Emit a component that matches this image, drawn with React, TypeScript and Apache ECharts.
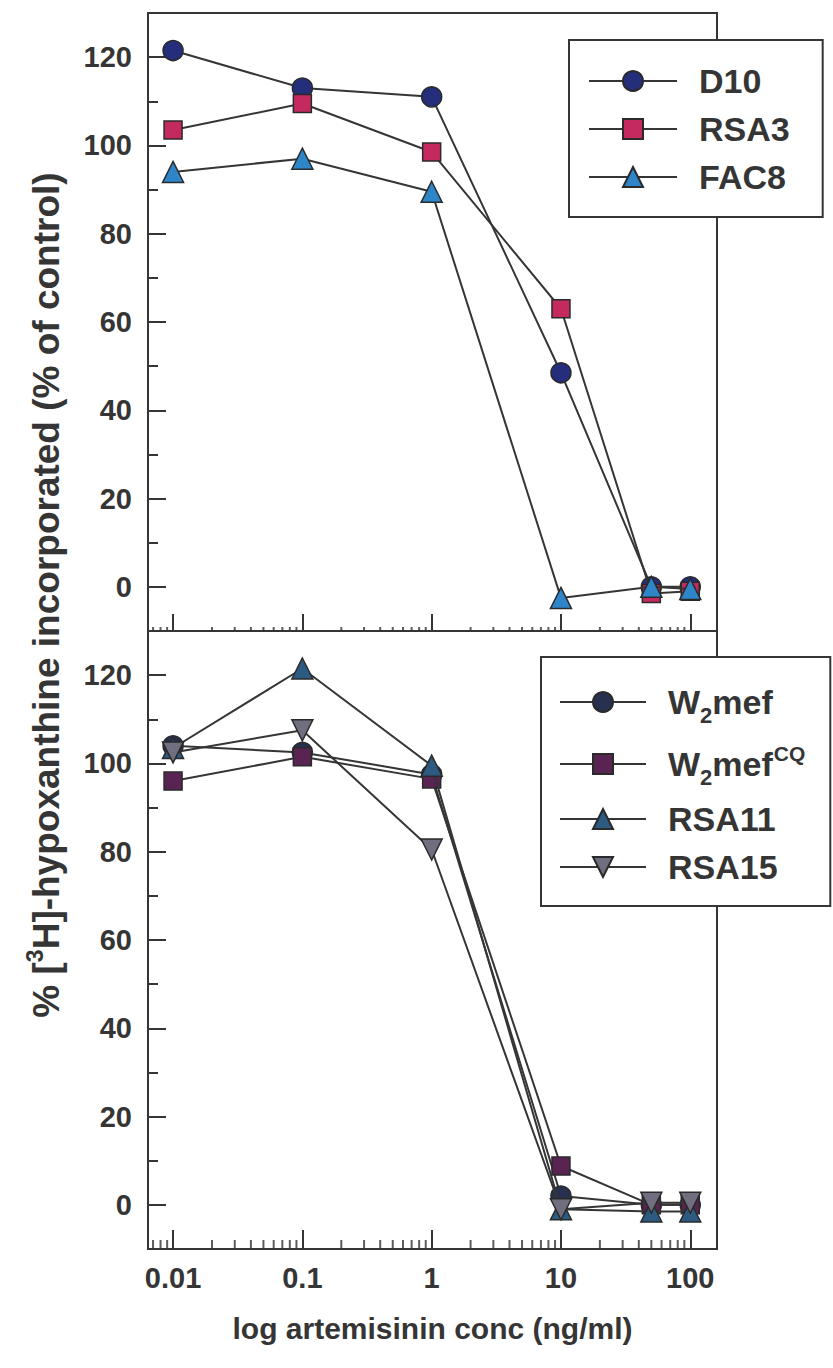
import React, { useEffect, useRef } from 'react';
import * as echarts from 'echarts';

// ---------- data ----------
const CONC = [0.01, 0.1, 1, 10, 50, 100];

// upper panel
const D10 = [121.5, 113, 111, 48.5, 0, 0];
const RSA3 = [103.5, 109.5, 98.5, 63, -1.5, -1];
const FAC8 = [94, 97, 89.5, -2.5, 0, -0.5];

// lower panel
const W2MEF = [104, 102.5, 97.5, 2, 0, 0];
const W2MEF_CQ = [96, 101.5, 96.5, 8.8, 0, 0];
const RSA11 = [103.5, 121.5, 99.5, -1, -1.5, -1.5];
const RSA15 = [102.5, 107.5, 80.5, -1, 0.5, 0.5];

// ticks
const Y_MAJOR_TICKS = [0, 20, 40, 60, 80, 100, 120];
const Y_MINOR_TICKS = [10, 30, 50, 70, 90, 110];
const X_MINOR_TICKS = [
  0.007, 0.008, 0.009,
  0.02, 0.03, 0.04, 0.05, 0.06, 0.07, 0.08, 0.09,
  0.2, 0.3, 0.4, 0.5, 0.6, 0.7, 0.8, 0.9,
  2, 3, 4, 5, 6, 7, 8, 9,
  20, 30, 40, 50, 60, 70, 80, 90,
];

const TOP_NAMES = ['D10', 'RSA3', 'FAC8'];
const BOTTOM_NAMES = ['W2mef', 'W2mefCQ', 'RSA11', 'RSA15'];
const LEGEND_LABELS: Record<string, string> = {
  D10: '{f|D10}',
  RSA3: '{f|RSA3}',
  FAC8: '{f|FAC8}',
  W2mef: '{f|W}{s|2}{n|mef}',
  W2mefCQ: '{f|W}{s|2}{n|mef}{p|CQ}',
  RSA11: '{f|RSA11}',
  RSA15: '{f|RSA15}',
};

const X_MIN = 0.0064;
const X_MAX = 161;
const Y_MIN = -10;
const Y_MAX = 130;

const FONT = '"Liberation Sans", Arial, Helvetica, sans-serif';
const INK = '#353535';
const TICK_FONT = 29;
const LEGEND_FONT = 34;

export default function App() {
  const ref = useRef<HTMLDivElement>(null);

  useEffect(() => {
    if (!ref.current) return;
    const chart = echarts.init(ref.current, undefined, { renderer: 'svg' });

    const grids = [
      { left: 148, right: 116, top: 13, height: 618 },
      { left: 148, right: 116, top: 631, height: 618 },
    ].map((g) => ({
      ...g,
      show: true,
      borderColor: INK,
      borderWidth: 2,
      backgroundColor: 'transparent',
    }));

    const xAxisBase = (gridIndex: number, showLabels: boolean, tickLen: number) => ({
      type: 'log',
      gridIndex,
      position: 'bottom',
      min: X_MIN,
      max: X_MAX,
      logBase: 10,
      axisLine: { show: false, onZero: false },
      splitLine: { show: false },
      axisTick: { show: true, inside: true, length: tickLen, lineStyle: { color: INK, width: 2 } },
      axisLabel: {
        show: showLabels,
        showMinLabel: false,
        showMaxLabel: false,
        margin: 14,
        fontSize: TICK_FONT,
        fontWeight: 'bold',
        color: INK,
        fontFamily: FONT,
        formatter: (v: number) => String(parseFloat(Number(v).toPrecision(3))),
      },
    });

    const yMajor = (gridIndex: number) => ({
      type: 'value',
      gridIndex,
      position: 'left',
      min: Y_MIN,
      max: Y_MAX,
      interval: 10,
      axisLine: { show: false, onZero: false },
      splitLine: { show: false },
      axisTick: {
        show: true,
        inside: true,
        length: 18,
        customValues: Y_MAJOR_TICKS,
        lineStyle: { color: INK, width: 2 },
      },
      axisLabel: {
        show: true,
        customValues: Y_MAJOR_TICKS,
        margin: 16,
        fontSize: TICK_FONT,
        fontWeight: 'bold',
        color: INK,
        fontFamily: FONT,
      },
    });

    const yMinor = (gridIndex: number) => ({
      type: 'value',
      gridIndex,
      position: 'left',
      offset: 0,
      min: Y_MIN,
      max: Y_MAX,
      interval: 10,
      axisLine: { show: false, onZero: false },
      splitLine: { show: false },
      axisTick: {
        show: true,
        inside: true,
        length: 10,
        customValues: Y_MINOR_TICKS,
        lineStyle: { color: INK, width: 2 },
      },
      axisLabel: { show: false },
    });

    const lineSeries = (
      name: string,
      values: number[],
      symbol: string,
      color: string,
      size: number,
      xAxisIndex: number,
      yAxisIndex: number,
      rotate = 0,
      z = 2
    ) => ({
      type: 'line',
      name,
      xAxisIndex,
      yAxisIndex,
      data: CONC.map((c, i) => [c, values[i]]),
      symbol,
      symbolSize: size,
      symbolRotate: rotate,
      showAllSymbol: true,
      clip: false,
      z,
      lineStyle: { color: INK, width: 2 },
      itemStyle: { color, borderColor: '#2a2a2a', borderWidth: 1.5 },
      emphasis: { disabled: true },
    });

    const minorTickSeries = (xAxisIndex: number, yAxisIndex: number, len: number) => ({
      type: 'scatter',
      name: 'minor',
      xAxisIndex,
      yAxisIndex,
      data: X_MINOR_TICKS.map((v) => [v, Y_MIN]),
      symbol: 'rect',
      symbolSize: [2, len],
      symbolOffset: [0, -len / 2],
      itemStyle: { color: INK },
      silent: true,
      clip: false,
      z: 1,
    });

    const tok = { fontFamily: FONT, color: INK, fontWeight: 'bold' };
    const richBase = {
      f: { ...tok, fontSize: LEGEND_FONT, padding: [0, 0, 0, 17], lineHeight: 32 },
      n: { ...tok, fontSize: LEGEND_FONT, lineHeight: 32 },
      s: { ...tok, fontSize: 22, padding: [26, 0, 0, 0], lineHeight: 32 },
      p: { ...tok, fontSize: 21, padding: [0, 1, 22, 1], lineHeight: 32 },
    };

    const legendBase = {
      orient: 'vertical',
      itemHeight: 25,
      backgroundColor: '#ffffff',
      borderColor: INK,
      borderWidth: 2,
      borderRadius: 0,
      selectedMode: false,
      formatter: (name: string) => LEGEND_LABELS[name] || name,
      textStyle: { ...tok, fontSize: LEGEND_FONT, lineHeight: 32, rich: richBase },
      z: 10,
    };

    chart.setOption({
      animation: false,
      backgroundColor: '#ffffff',
      textStyle: { fontFamily: FONT },
      grid: grids,
      xAxis: [
        xAxisBase(0, false, 17),
        {
          ...xAxisBase(1, true, 19),
          name: 'log artemisinin conc (ng/ml)',
          nameLocation: 'middle',
          nameGap: 64,
          nameTextStyle: { fontSize: 30, fontWeight: 'bold', color: INK, fontFamily: FONT },
        },
      ],
      yAxis: [yMajor(0), yMinor(0), yMajor(1), yMinor(1)],
      legend: [
        {
          ...legendBase,
          data: TOP_NAMES,
          left: 569,
          top: 40,
          itemWidth: 88,
          itemGap: 14,
          padding: [24, 33, 23, 19],
        },
        {
          ...legendBase,
          data: BOTTOM_NAMES,
          left: 541,
          top: 657,
          itemWidth: 86,
          itemGap: 14,
          padding: [21, 24, 22, 18],
        },
      ],
      graphic: [
        {
          type: 'text',
          x: 46,
          y: 595,
          rotation: Math.PI / 2,
          style: {
            text: '{n|% [}{s|3}{n|H]-hypoxanthine incorporated (% of control)}',
            align: 'center',
            verticalAlign: 'middle',
            fill: INK,
            fontSize: 37,
            fontWeight: 'bold',
            fontFamily: FONT,
            rich: {
              n: { fontSize: 37, fontWeight: 'bold', fontFamily: FONT, fill: INK, lineHeight: 40 },
              s: {
                fontSize: 23,
                fontWeight: 'bold',
                fontFamily: FONT,
                fill: INK,
                padding: [0, 0, 22, 0],
                lineHeight: 40,
              },
            },
          },
        },
      ],
      series: [
        minorTickSeries(0, 0, 4),
        minorTickSeries(1, 2, 9),
        lineSeries('D10', D10, 'circle', '#252e7a', 20, 0, 0, 0, 3),
        lineSeries('RSA3', RSA3, 'rect', '#c42a60', 18, 0, 0, 0, 4),
        lineSeries('FAC8', FAC8, 'triangle', '#2e86c8', 21, 0, 0, 0, 5),
        lineSeries('W2mef', W2MEF, 'circle', '#27304f', 20, 1, 2, 0, 3),
        lineSeries('W2mefCQ', W2MEF_CQ, 'rect', '#5a2452', 18, 1, 2, 0, 4),
        lineSeries('RSA11', RSA11, 'triangle', '#2d5a80', 21, 1, 2, 0, 5),
        lineSeries('RSA15', RSA15, 'triangle', '#6f6f80', 21, 1, 2, 180, 6),
      ],
    });

    return () => chart.dispose();
  }, []);

  return (
    <div
      ref={ref}
      style={{ position: 'absolute', left: 0, top: 0, width: 833, height: 1368, background: '#fff' }}
    />
  );
}
